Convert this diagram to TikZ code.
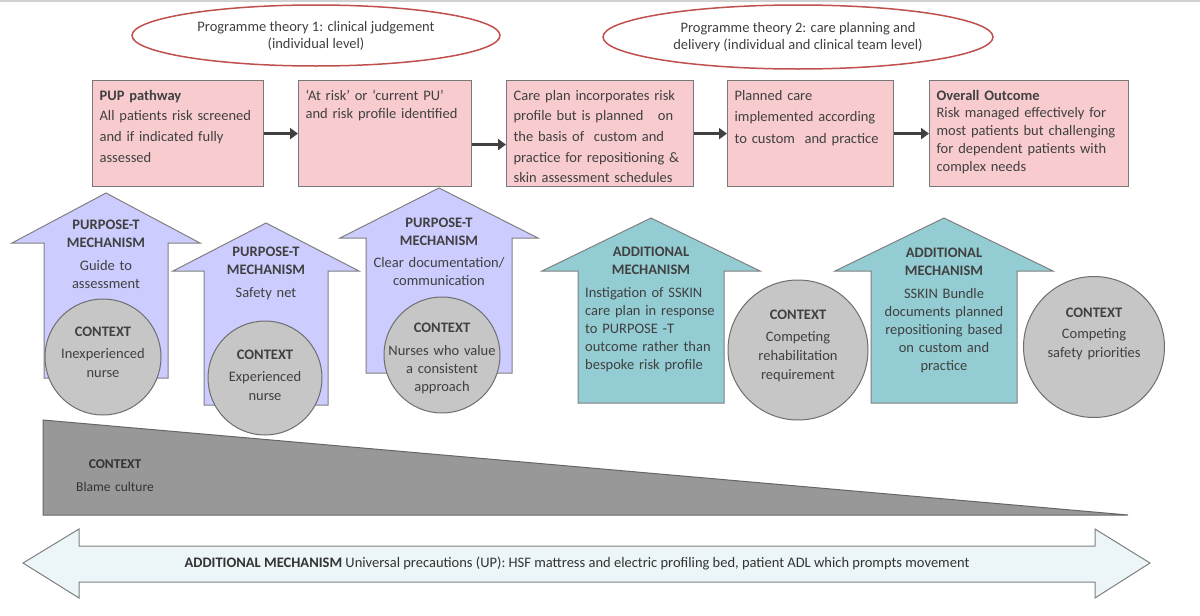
\documentclass[tikz,border=0pt]{standalone}
\usepackage{fontspec}
\setmainfont{Carlito}
\usetikzlibrary{shapes.geometric,arrows.meta}
\definecolor{boxpink}{RGB}{248,204,206}
\definecolor{boxline}{RGB}{120,120,120}
\definecolor{ovalred}{RGB}{192,80,77}
\definecolor{lilac}{RGB}{204,204,255}
\definecolor{mechteal}{RGB}{147,205,211}
\definecolor{arrowline}{RGB}{128,128,128}
\definecolor{ctxgray}{RGB}{198,198,198}
\definecolor{ctxline}{RGB}{110,110,110}
\definecolor{wedgegray}{RGB}{152,152,152}
\definecolor{bandblue}{RGB}{236,245,248}
\definecolor{txtgray}{RGB}{64,64,64}

\begin{document}
\begin{tikzpicture}[x=1pt,y=-1pt,
  theory/.style={ellipse,draw=ovalred,line width=1.5pt,fill=white,inner sep=0pt,align=center,text=txtgray,font=\fontsize{14.5}{17}\selectfont},
  stage/.style={draw=boxline,fill=boxpink,line width=1.2pt,anchor=north west,align=left,inner xsep=7pt,inner ysep=2pt,text height=17.5pt,text depth=84.5pt,text=txtgray,font=\fontsize{14.5}{20.7}\selectfont},
  flow/.style={draw=txtgray,line width=3pt,-{Triangle[length=8pt,width=11pt]}},
  purpose/.style={draw=arrowline,fill=lilac,line width=1pt},
  extra/.style={draw=arrowline,fill=mechteal,line width=1pt},
  context/.style={circle,draw=ctxline,fill=ctxgray,line width=1pt,inner sep=0pt},
  mtext/.style={anchor=base,align=center,inner sep=0pt,text=txtgray,font=\fontsize{14.5}{18}\selectfont},
  ctext/.style={mtext,font=\fontsize{14.5}{19}\selectfont}]
\useasboundingbox (0,0) rectangle (1200,616);
\draw[line width=1.5pt,draw=black!18] (0,1) -- (1200,1);

% programme theories
\node[theory,minimum width=368pt,minimum height=61pt] (pt1) at (316,35.5) {Programme theory 1: clinical judgement\\(individual level)};
\node[theory,minimum width=390pt,minimum height=64pt] (pt2) at (798,37) {Programme theory 2: care planning and\\delivery (individual and clinical team level)};

% pathway
\node[stage,text width=157pt] (b1) at (92,80) {\textbf{PUP pathway}\\All patients risk screened\\and if indicated fully\\assessed};
\node[stage,text width=159pt,font=\fontsize{14.5}{18}\selectfont] (b2) at (298,80) {‘At risk’ or ‘current PU’\\and risk profile identified};
\node[stage,text width=173pt] (b3) at (506,80) {Care plan incorporates risk\\profile but is planned \ \ on\\the basis of \ custom and\\practice for repositioning \&\\skin assessment schedules};
\node[stage,text width=152pt,font=\fontsize{14.5}{21.5}\selectfont] (b4) at (727,80) {Planned care\\implemented according\\to custom \ and practice};
\node[stage,text width=185pt,font=\fontsize{14.5}{17.8}\selectfont] (b5) at (929,80) {\textbf{Overall Outcome}\\Risk managed effectively for\\most patients but challenging\\for dependent patients with\\complex needs};
\draw[flow] (b1) -- (b2);
\draw[flow] ([yshift=-11pt]b2.east) -- ([yshift=-11pt]b3.west);
\draw[flow] (b3) -- (b4);
\draw[flow] (b4) -- (b5);

% mechanisms and contexts
\draw[purpose] (106,193) -- (200,243) -- (168,243) -- (168,378) -- (44,378) -- (44,243) -- (12,243) -- cycle;
\node[mtext,text width=150pt] (m1) at (106,229.5) {\textbf{PURPOSE-T}\\\textbf{MECHANISM}\\[5pt]Guide to\\assessment};
\node[context,minimum size=116pt] (c1) at (103,357) {};
\node[ctext,text width=110pt] (c1t) at (103,336.5) {\textbf{CONTEXT}\\[3pt]Inexperienced\\nurse};

\draw[purpose] (266,223) -- (359,271) -- (328,271) -- (328,405) -- (204,405) -- (204,271) -- (173,271) -- cycle;
\node[mtext,text width=150pt] (m2) at (266,256.5) {\textbf{PURPOSE-T}\\\textbf{MECHANISM}\\[5pt]Safety net};
\node[context,minimum size=114pt] (c2) at (265,378) {};
\node[ctext,text width=110pt] (c2t) at (265,359.5) {\textbf{CONTEXT}\\[3pt]Experienced\\nurse};

\draw[purpose] (439,188) -- (538,238) -- (512,238) -- (512,373) -- (366,373) -- (366,238) -- (340,238) -- cycle;
\node[mtext,text width=150pt] (m3) at (439,227.5) {\textbf{PURPOSE-T}\\\textbf{MECHANISM}\\[4pt]Clear documentation/\\communication};
\node[context,minimum size=116pt] (c3) at (442,355) {};
\node[ctext,text width=116pt,font=\fontsize{14.5}{18}\selectfont] (c3t) at (442,332.5) {\textbf{CONTEXT}\\[5pt]Nurses who value\\a consistent\\approach};

\draw[extra] (651,218) -- (760,271) -- (724,271) -- (724,403) -- (578,403) -- (578,271) -- (542,271) -- cycle;
\node[mtext,text width=150pt] (m4) at (651,256.5) {\textbf{ADDITIONAL}\\\textbf{MECHANISM}};
\node[mtext,anchor=base west,align=left,text width=140pt] (m4b) at (585,297.5) {Instigation of SSKIN\\care plan in response\\to PURPOSE -T\\outcome rather than\\bespoke risk profile};
\node[context,minimum size=140pt] (c4) at (798,350) {};
\node[ctext,text width=130pt] (c4t) at (798,319.5) {\textbf{CONTEXT}\\[3pt]Competing\\rehabilitation\\requirement};

\draw[extra] (944,218) -- (1053,271) -- (1017,271) -- (1017,403) -- (871,403) -- (871,271) -- (835,271) -- cycle;
\node[mtext,text width=150pt] (m5) at (944,257.5) {\textbf{ADDITIONAL}\\\textbf{MECHANISM}\\[5pt]SSKIN Bundle\\documents planned\\repositioning based\\on custom and\\practice};
\node[context,minimum size=141pt] (c5) at (1094,347) {};
\node[ctext,text width=130pt,font=\fontsize{14.5}{19.5}\selectfont] (c5t) at (1094,317.5) {\textbf{CONTEXT}\\[1pt]Competing\\safety priorities};

% blame culture wedge
\draw[draw=black!60,fill=wedgegray,line width=1pt] (43,420) -- (43,515) -- (1128,515) -- cycle;
\node[mtext,text width=110pt,font=\fontsize{13.5}{23}\selectfont,text=black!80] (blame) at (115,468.5) {\textbf{CONTEXT}\\Blame culture};

% universal precautions
\draw[draw=arrowline,fill=bandblue,line width=1pt] (23,563) -- (79,529) -- (79,546) -- (1095,546) -- (1095,529) -- (1150,563) -- (1095,598) -- (1095,582) -- (79,582) -- (79,598) -- cycle;
\node[inner sep=0pt,text=black!80,font=\fontsize{14.5}{17}\selectfont] (up) at (577,563) {\textbf{ADDITIONAL MECHANISM} Universal precautions (UP): HSF mattress and electric profiling bed, patient ADL which prompts movement};
\end{tikzpicture}
\end{document}
